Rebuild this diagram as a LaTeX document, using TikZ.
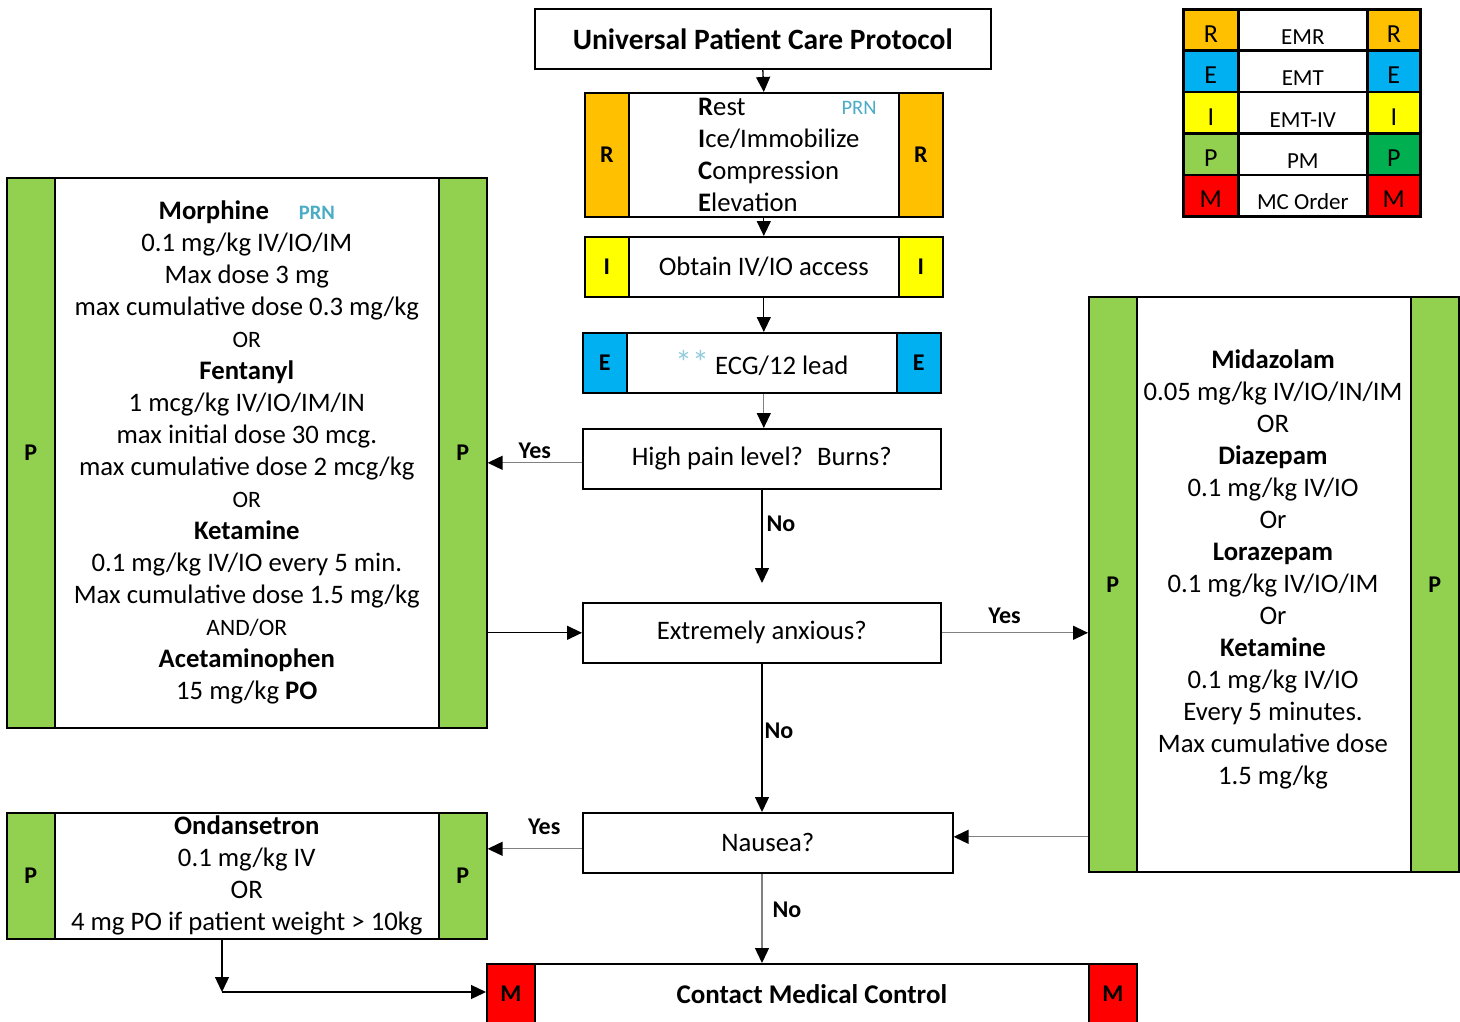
\documentclass[tikz,border=0pt]{standalone}
\usepackage{fontspec}
\setmainfont{Carlito}
\usetikzlibrary{arrows.meta,calc}
\definecolor{cR}{HTML}{FFC000}
\definecolor{cE}{HTML}{00B0F0}
\definecolor{cI}{HTML}{FFFF00}
\definecolor{cP}{HTML}{92D050}
\definecolor{cPd}{HTML}{00B050}
\definecolor{cM}{HTML}{FF0000}
\definecolor{prn}{HTML}{4BACC6}
\definecolor{star}{HTML}{93CDDD}
\newcommand\myfs[2]{\fontsize{#1}{#2}\selectfont}
\begin{document}
\begin{tikzpicture}[x=1pt,y=-1pt,
  box/.style={draw=black,line width=1.6pt,fill=white,inner sep=0pt,anchor=north west,align=center,font=\myfs{26.7}{32}},
  bar/.style={draw=black,line width=1.6pt,inner sep=0pt,anchor=north west,font=\bfseries\myfs{24}{28}},
  txt/.style={inner sep=0pt,align=center,font=\myfs{26.7}{32}},
  lab/.style={inner sep=0pt,font=\bfseries\myfs{24}{28}},
  leg/.style={draw=black,line width=2.6pt,inner sep=0pt,anchor=north west,minimum height=41.4pt,font=\myfs{26}{28},text height=24.6pt,text depth=0pt},
  legmid/.style={leg,font=\myfs{23}{26},text height=28.6pt,text depth=0pt},
  arr/.style={line width=1.3pt,-{Triangle[width=14pt,length=15pt,color=black]}},
  garr/.style={arr,draw=black!50}]
\useasboundingbox (0,0) rectangle (1460,1021);
\clip (0,0) rectangle (1460,1021);
\fill[white] (0,0) rectangle (1460,1021);

% legend
\foreach \c/\l/\m/\cc [count=\i from 0] in {cR/R/EMR/cR, cE/E/EMT/cE, cI/I/EMT-IV/cI, cP/P/PM/cPd, cM/M/MC Order/cM}{
  \node[leg,fill=\c,minimum width=55pt] (legL\i) at (1182,8+41.4*\i) {\l};
  \node[legmid,fill=white,minimum width=129pt] (legC\i) at (1237,8+41.4*\i) {\m};
  \node[leg,fill=\cc,minimum width=53pt] (legR\i) at (1366,8+41.4*\i) {\l};
}

% title
\node[box,minimum width=456pt,minimum height=60pt,font=\bfseries\myfs{29.5}{34}] (title) at (534,8) {Universal Patient Care Protocol};

% RICE
\node[box,minimum width=358pt,minimum height=124pt] (rice) at (584,92) {};
\node[bar,fill=cR,minimum width=44pt,minimum height=124pt] (riceL) at (584,92) {R};
\node[bar,fill=cR,minimum width=44pt,minimum height=124pt] (riceR) at (898,92) {R};
\node[txt,align=left,anchor=west] (ricetxt) at (698,155) {\textbf{R}est\\\textbf{I}ce/Immobilize\\\textbf{C}ompression\\\textbf{E}levation};
\node[inner sep=0pt,text=prn,font=\myfs{20.5}{24}] (prn1) at (859,108) {PRN};

% IV
\node[box,minimum width=358pt,minimum height=60pt] (iv) at (584,236) {Obtain IV/IO access};
\node[bar,fill=cI,minimum width=44pt,minimum height=60pt] (ivL) at (584,236) {I};
\node[bar,fill=cI,minimum width=44pt,minimum height=60pt] (ivR) at (898,236) {I};

% ECG
\node[box,minimum width=358pt,minimum height=60pt] (ecg) at (582,332) {{\color{star}\myfs{34}{32}**} ECG/12 lead};
\node[bar,fill=cE,minimum width=44pt,minimum height=60pt] (ecgL) at (582,332) {E};
\node[bar,fill=cE,minimum width=44pt,minimum height=60pt] (ecgR) at (896,332) {E};

% decisions
\node[box,minimum width=358pt,minimum height=60pt] (pain) at (582,428) {High pain level?~ Burns?};
\node[box,minimum width=358pt,minimum height=60pt] (anx) at (582,602) {Extremely anxious?};
\node[box,minimum width=370pt,minimum height=60pt] (naus) at (582,812) {Nausea?};

% contact medical control
\node[box,minimum width=650pt,minimum height=60pt,font=\bfseries\myfs{27}{32}] (cmc) at (486,963) {Contact Medical Control};
\node[bar,fill=cM,minimum width=48pt,minimum height=60pt] (cmcL) at (486,963) {M};
\node[bar,fill=cM,minimum width=48pt,minimum height=60pt] (cmcR) at (1088,963) {M};

% left pain box
\node[box,minimum width=480pt,minimum height=550pt] (lbox) at (6,177) {\textbf{Morphine}\hspace{30pt}{\color{prn}\bfseries\myfs{20.5}{24}PRN}\\
0.1 mg/kg IV/IO/IM\\
Max dose 3 mg\\
max cumulative dose 0.3 mg/kg\\
{\myfs{23.5}{26}OR}\\
\textbf{Fentanyl}\\
1 mcg/kg IV/IO/IM/IN\\
max initial dose 30 mcg.\\
max cumulative dose 2 mcg/kg\\
{\myfs{23.5}{26}OR}\\
\textbf{Ketamine}\\
0.1 mg/kg IV/IO every 5 min.\\
Max cumulative dose 1.5 mg/kg\\
{\myfs{23.5}{26}AND/OR}\\
\textbf{Acetaminophen}\\
15 mg/kg \textbf{PO}};
\node[bar,fill=cP,minimum width=48pt,minimum height=550pt] (lboxL) at (6,177) {P};
\node[bar,fill=cP,minimum width=48pt,minimum height=550pt] (lboxR) at (438,177) {P};

% right anxiety box
\node[box,minimum width=370pt,minimum height=575pt] (rbox) at (1088,296) {};
\node[bar,fill=cP,minimum width=48pt,minimum height=575pt] (rboxL) at (1088,296) {P};
\node[bar,fill=cP,minimum width=48pt,minimum height=575pt] (rboxR) at (1410,296) {P};
\node[txt] (rboxtxt) at (1273,569) {\textbf{Midazolam}\\
0.05 mg/kg IV/IO/IN/IM\\
OR\\
\textbf{Diazepam}\\
0.1 mg/kg IV/IO\\
Or\\
\textbf{Lorazepam}\\
0.1 mg/kg IV/IO/IM\\
Or\\
\textbf{Ketamine}\\
0.1 mg/kg IV/IO\\
Every 5 minutes.\\
Max cumulative dose\\
1.5 mg/kg};

% ondansetron box
\node[box,minimum width=480pt,minimum height=126pt] (ond) at (6,812) {\textbf{Ondansetron}\\0.1 mg/kg IV\\OR\\4 mg PO if patient weight > 10kg};
\node[bar,fill=cP,minimum width=48pt,minimum height=126pt] (ondL) at (6,812) {P};
\node[bar,fill=cP,minimum width=48pt,minimum height=126pt] (ondR) at (438,812) {P};

% connectors
\draw[arr] (title.south) -- (rice.north);
\draw[arr] (rice.south) -- (iv.north);
\draw[arr] (iv.south) -- (ecg.north -| iv.south);
\draw[garr] (ecg.south -| iv.south) -- (pain.north -| iv.south);

\coordinate (p1) at ($(pain.west)+(0,4)$);
\draw[garr] (p1) -- (p1 -| lbox.east) node[lab,pos=0.5,above=3pt] (yes1) {Yes};

\coordinate (noend) at (762,583);
\draw[arr] (pain.south -| noend) -- (noend) node[lab,pos=0.37,right=4pt] (no1) {No};

\draw[arr] (anx.west -| lbox.east) -- (anx.west);
\draw[garr] (anx.east) -- (anx.east -| rbox.west) node[lab,pos=0.43,above=8pt] (yes2) {Yes};

\draw[arr] (anx.south -| noend) -- (naus.north -| noend) node[lab,pos=0.45,right=2pt] (no2) {No};

\coordinate (n2) at ($(naus.east)+(0,-6)$);
\draw[garr] (n2 -| rbox.west) -- (n2);

\coordinate (n3) at ($(naus.west)+(0,6)$);
\draw[garr] (n3) -- (n3 -| ond.east) node[lab,pos=0.4,above=13pt] (yes3) {Yes};

\draw[garr] (naus.south -| noend) -- (cmc.north -| noend) node[lab,pos=0.4,right=10pt] (no3) {No};

\coordinate (oc) at (222,992);
\draw[arr] (oc |- ond.south) -- (oc);
\draw[arr] (oc) -- (oc -| cmc.west);
\end{tikzpicture}
\end{document}
